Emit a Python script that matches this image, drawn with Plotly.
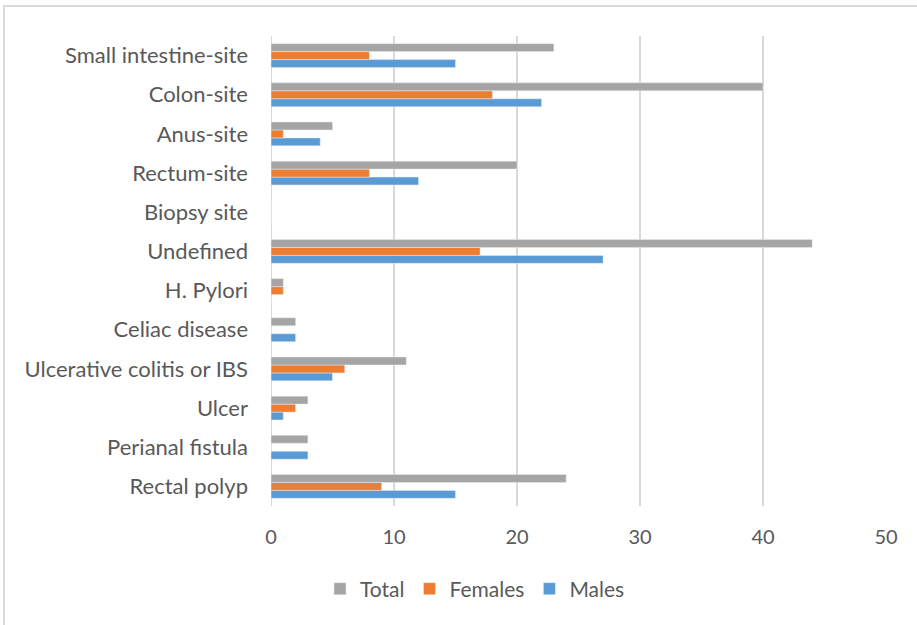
import plotly.graph_objects as go

categories = ["Rectal polyp", "Perianal fistula", "Ulcer", "Ulcerative colitis or IBS",
              "Celiac disease", "H. Pylori", "Undefined", "Biopsy site",
              "Rectum-site", "Anus-site", "Colon-site", "Small intestine-site"]
males = [15, 3, 1, 5, 2, 0, 27, 0, 12, 4, 22, 15]
females = [9, 0, 2, 6, 0, 1, 17, 0, 8, 1, 18, 8]
total = [24, 3, 3, 11, 2, 1, 44, 0, 20, 5, 40, 23]
x_ticks = [0, 10, 20, 30, 40, 50]

fig = go.Figure()
# first trace sits at the bottom of each group in horizontal bars
fig.add_trace(go.Bar(y=categories, x=males, name="Males", orientation="h",
                     marker=dict(color="#5B9BD5")))
fig.add_trace(go.Bar(y=categories, x=females, name="Females", orientation="h",
                     marker=dict(color="#ED7D31")))
fig.add_trace(go.Bar(y=categories, x=total, name="Total", orientation="h",
                     marker=dict(color="#A5A5A5")))

font_family = "Lato, Liberation Sans, sans-serif"

fig.update_layout(
    width=917, height=625,
    margin=dict(l=271, r=31, t=36, b=119),
    paper_bgcolor="white", plot_bgcolor="white",
    barmode="group", bargap=0.39, bargroupgap=0,
    font=dict(family=font_family, color="#595959", size=21),
    showlegend=True,
    legend=dict(orientation="h", traceorder="reversed",
                xref="container", yref="container",
                x=0.518, xanchor="center", y=1 - 589 / 625, yanchor="middle",
                font=dict(size=21, color="#595959"), itemwidth=30),
    xaxis=dict(range=[0, 50], tickvals=x_ticks, showgrid=True, gridcolor="#D9D9D9",
               gridwidth=2, zeroline=False, showline=False, ticks="",
               tickfont=dict(size=20, color="#595959"), ticklabelstandoff=17),
    yaxis=dict(categoryorder="array", categoryarray=categories, showgrid=False,
               ticks="", showline=False, tickfont=dict(size=22, color="#595959"),
               ticklabelstandoff=22),
    shapes=[
        dict(type="line", xref="x", yref="paper", x0=0, x1=0, y0=0, y1=1,
             line=dict(color="#D9D9D9", width=2), layer="below"),
        dict(type="rect", xref="paper", yref="paper",
             x0=-267 / 615, x1=1.2, y0=-0.5, y1=1 + 30 / 470,
             line=dict(color="#D9D9D9", width=2), layer="below"),
    ],
)

fig.write_html("out.html")
